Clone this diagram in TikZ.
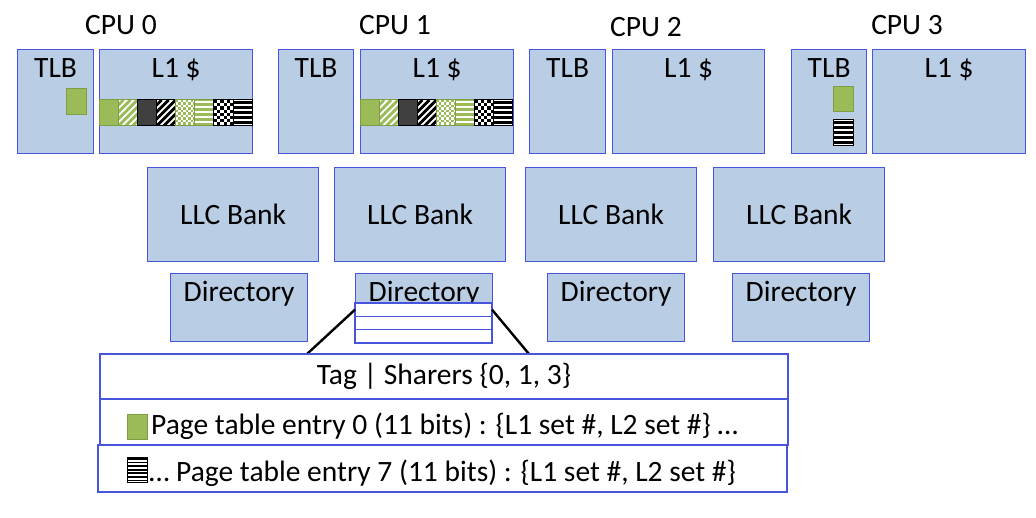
\documentclass[tikz,border=0pt]{standalone}
\usepackage{fontspec}
\setmainfont{Carlito}
\usepackage{tikz}
\usetikzlibrary{positioning}

\definecolor{boxfill}{HTML}{B9CDE5}
\definecolor{boxline}{RGB}{70,85,220}
\definecolor{pgreen}{HTML}{9BBB59}
\definecolor{gline}{HTML}{7E9E45}
\definecolor{pgray}{HTML}{404040}

\tikzset{
  unit/.style={draw=boxline, fill=boxfill, line width=1.3pt, anchor=north west, inner sep=0pt},
  row/.style={draw=boxline, fill=white, line width=1.3pt, anchor=north west, inner sep=0pt, outer sep=0pt},
  top label/.style={label={[anchor=base, yshift=-29pt]north:#1}},
  zoomline/.style={black, line width=2.4pt},
}

% solid green square
\newcommand{\greensq}[4]{\draw[gline, line width=1pt, fill=pgreen] (#1,#2) rectangle ++(#3,#4);}
% square with horizontal bars: x, y, w, h, bar, ground, edge, bar width, period
\newcommand{\barsq}[9]{%
  \fill[#6] (#1,#2) rectangle ++(#3,#4);
  \begin{scope}
    \clip (#1,#2) rectangle ++(#3,#4);
    \foreach \p in {0,#9,...,30} \fill[#5] (#1,#2+\p+1) rectangle ++(#3,#8);
  \end{scope}
  \draw[#7, line width=1pt] (#1,#2) rectangle ++(#3,#4);}
% square with diagonal bars: x, y, w, h, bar, edge
\newcommand{\diagsq}[6]{%
  \fill[white] (#1,#2) rectangle ++(#3,#4);
  \begin{scope}
    \clip (#1,#2) rectangle ++(#3,#4);
    \foreach \p in {-28,-21,...,28} \draw[#5, line width=2.8pt] (#1+\p,#2+#4) -- ++(#4,-#4);
  \end{scope}
  \draw[#6, line width=1pt] (#1,#2) rectangle ++(#3,#4);}
% checkered square: x, y, w, h, cell, colour, edge
\newcommand{\checksq}[7]{%
  \fill[white] (#1,#2) rectangle ++(#3,#4);
  \begin{scope}
    \clip (#1,#2) rectangle ++(#3,#4);
    \foreach \p in {0,...,4} \foreach \q in {0,...,5} {
      \fill[#6] (#1+2*\p*#5,#2+2*\q*#5) rectangle ++(#5,#5);
      \fill[#6] (#1+2*\p*#5+#5,#2+2*\q*#5+#5) rectangle ++(#5,#5);}
  \end{scope}
  \draw[#7, line width=1pt] (#1,#2) rectangle ++(#3,#4);}
% the eight page table entries of a line
\newcommand{\ptestrip}[2]{%
  \greensq{#1}{#2}{19.1}{26}
  \diagsq{#1+19.1}{#2}{19.1}{26}{pgreen}{gline}
  \draw[black, line width=1pt, fill=pgray] (#1+38.2,#2) rectangle ++(19.1,26);
  \diagsq{#1+57.3}{#2}{19.1}{26}{black}{black}
  \checksq{#1+76.4}{#2}{19.1}{26}{2.5}{pgreen}{gline}
  \barsq{#1+95.5}{#2}{19.1}{26}{white}{pgreen}{gline}{1.6}{5}
  \checksq{#1+114.6}{#2}{19.1}{26}{3.2}{black}{black}
  \barsq{#1+133.7}{#2}{19.1}{26}{black}{white}{black}{2.8}{5}}

\begin{document}
\begin{tikzpicture}[x=1pt, y=-1pt, font=\fontsize{29.5}{35}\selectfont]
  \useasboundingbox (0,0) rectangle (1036,518);

  % CPU names
  \node (cpu0) at (121,25) {CPU 0};
  \node (cpu1) at (395,25) {CPU 1};
  \node (cpu2) at (646,27) {CPU 2};
  \node (cpu3) at (907,25) {CPU 3};

  % TLBs and L1 caches
  \foreach \c/\tx/\tw/\lx/\lw in {0/17/76/99/153, 1/278/75/360/153, 2/529/76/612/152, 3/791/75/872/153} {
    \node[unit, minimum width=\tw pt, minimum height=104pt, top label=TLB] (tlb\c) at (\tx,49) {};
    \node[unit, minimum width=\lw pt, minimum height=104pt, top label=L1 \$] (lone\c) at (\lx,49) {};
  }

  % LLC banks
  \foreach \c/\x in {0/147, 1/334, 2/525, 3/713}
    \node[unit, minimum width=171pt, minimum height=94pt] (llc\c) at (\x,167) {LLC Bank};

  % Directories
  \foreach \c/\x in {0/170, 1/355, 2/547, 3/732}
    \node[unit, minimum width=137pt, minimum height=68pt, top label=Directory] (dir\c) at (\x,273) {};

  % Entries of directory 1
  \node[row, minimum width=137pt, minimum height=13.3pt] (drow1) at (355,303) {};
  \node[row, minimum width=137pt, minimum height=13.3pt, below=0pt of drow1] (drow2) {};
  \node[row, minimum width=137pt, minimum height=13.3pt, below=0pt of drow2] (drow3) {};

  % Zoom lines
  \coordinate (zl) at (307,354);
  \coordinate (zr) at (529,354);
  \draw[zoomline] (drow1.west) -- (zl);
  \draw[zoomline] (drow1.east) -- (zr);

  % Directory entry
  \node[row, minimum width=688pt, minimum height=45pt] (tag) at (100,354) {Tag | Sharers \{0, 1, 3\}};
  \node[row, minimum width=688pt, minimum height=46pt] (pte0) at (100,399) {};
  \node[row, minimum width=689pt, minimum height=47pt] (pte7) at (98,445) {};
  \node[anchor=base west, inner sep=0pt] (pte0text) at (151,434) {Page table entry 0 (11 bits) : \{L1 set \#, L2 set \#\} …};
  \node[anchor=base west, inner sep=0pt] (pte7text) at (149,481) {… Page table entry 7 (11 bits) : \{L1 set \#, L2 set \#\}};

  % Page table entries
  \greensq{66}{89}{20}{26}
  \ptestrip{99.3}{100}
  \ptestrip{360}{100}
  \greensq{833}{87}{20}{25}
  \barsq{833}{120}{20}{26}{black}{white}{black}{2.6}{5}
  \greensq{127}{414}{20}{25}
  \barsq{127}{457}{20}{25}{black}{white}{black}{1.8}{3.6}
\end{tikzpicture}
\end{document}
